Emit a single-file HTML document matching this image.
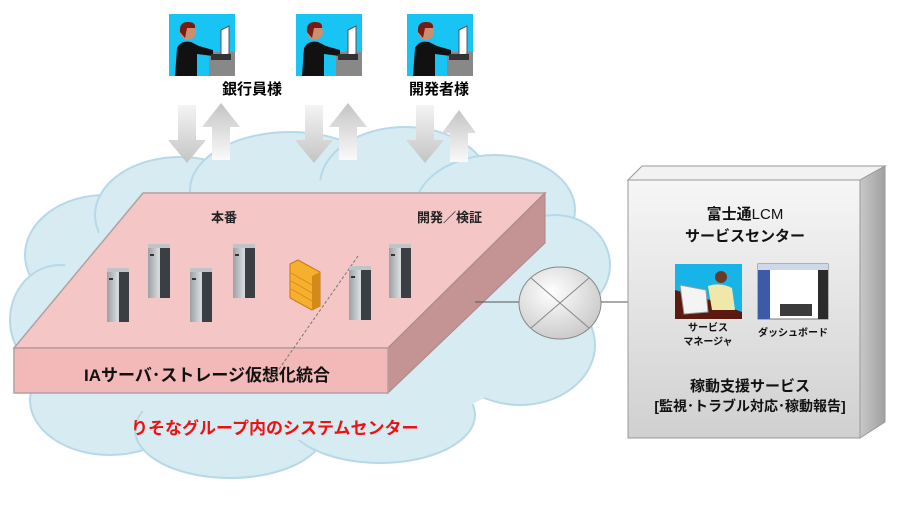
<!DOCTYPE html>
<html><head><meta charset="utf-8"><style>
body{margin:0;background:#fff;}
svg{display:block;font-family:"Liberation Sans","Noto Sans CJK JP",sans-serif;}
</style></head><body>
<svg width="900" height="515" viewBox="0 0 900 515">
<defs>
<linearGradient id="dn" x1="0" y1="0" x2="0" y2="1"><stop offset="0" stop-color="#f4f4f4"/><stop offset="1" stop-color="#c4c4c4"/></linearGradient>
<linearGradient id="up" x1="0" y1="1" x2="0" y2="0"><stop offset="0" stop-color="#fafafa"/><stop offset="1" stop-color="#c4c4c4"/></linearGradient>
<linearGradient id="box" x1="0" y1="0" x2="0" y2="1"><stop offset="0" stop-color="#f6f6f6"/><stop offset="1" stop-color="#d0d0d0"/></linearGradient>
<linearGradient id="side" x1="0" y1="0" x2="1" y2="0"><stop offset="0" stop-color="#c8c8c8"/><stop offset="1" stop-color="#a0a0a0"/></linearGradient>
<linearGradient id="srv" x1="0" y1="0" x2="1" y2="0"><stop offset="0" stop-color="#9aa0a4"/><stop offset="0.5" stop-color="#d8dcde"/><stop offset="1" stop-color="#6c7276"/></linearGradient>
<radialGradient id="circ" cx="0.4" cy="0.35" r="0.7"><stop offset="0" stop-color="#ffffff"/><stop offset="1" stop-color="#c8c8c8"/></radialGradient>
<g id="person">
<rect width="66" height="62" fill="#18c4f4"/>
<rect x="40" y="38" width="26" height="24" fill="#888"/>
<path d="M6 62 L8 34 Q12 26 22 28 L30 32 L44 36 L44 42 L28 40 L28 62Z" fill="#111"/>
<circle cx="19" cy="18" r="8" fill="#c98f70"/>
<path d="M11 18 Q10 8 19 8 Q27 8 26 14 L18 14 L16 24Z" fill="#7a1a10"/>
<path d="M52 16 L60 12 L60 40 L52 42Z" fill="#fff" stroke="#555"/>
<rect x="42" y="40" width="20" height="6" fill="#333"/>
</g>
<g id="server">
<rect width="22" height="50" fill="url(#srv)"/>
<rect x="0" y="-4" width="22" height="4" fill="#bfc4c6"/>
<rect x="12" y="0" width="10" height="50" fill="#3b3f44"/>
<rect x="2" y="6" width="4" height="2" fill="#333"/>
</g>
</defs>

<g fill="#d7ebf3" stroke="#b7d9e7" stroke-width="2">
<ellipse cx="105" cy="255" rx="80" ry="60"/>
<ellipse cx="180" cy="215" rx="85" ry="58"/>
<ellipse cx="290" cy="190" rx="100" ry="58"/>
<ellipse cx="405" cy="185" rx="85" ry="58"/>
<ellipse cx="495" cy="210" rx="80" ry="55"/>
<ellipse cx="555" cy="265" rx="55" ry="50"/>
<ellipse cx="520" cy="345" rx="75" ry="60"/>
<ellipse cx="60" cy="320" rx="50" ry="55"/>
<ellipse cx="110" cy="400" rx="80" ry="55"/>
<ellipse cx="230" cy="430" rx="95" ry="48"/>
<ellipse cx="380" cy="415" rx="95" ry="48"/>
</g>
<g fill="#d7ebf3">
<ellipse cx="300" cy="310" rx="250" ry="130"/>
</g>

<g>
<path d="M178 105 H196 V140 H206 L187 163 L168 140 H178Z" fill="url(#dn)"/>
<path d="M212 160 H230 V127 H240 L221 103 L202 127 H212Z" fill="url(#up)"/>
<path d="M305 105 H323 V140 H333 L314 163 L295 140 H305Z" fill="url(#dn)"/>
<path d="M339 160 H357 V127 H367 L348 103 L329 127 H339Z" fill="url(#up)"/>
<path d="M416 105 H434 V140 H444 L425 163 L406 140 H416Z" fill="url(#dn)"/>
<path d="M450 162 H468 V133 H476 L459 110 L442 133 H450Z" fill="url(#up)"/>
</g>

<use href="#person" x="169" y="14"/>
<use href="#person" x="296" y="14"/>
<use href="#person" x="407" y="14"/>
<text x="222" y="94" font-size="15" font-weight="bold">銀行員様</text>
<text x="409" y="94" font-size="15" font-weight="bold">開発者様</text>

<polygon points="143,193 545,193 388,348 14,348" fill="#f4c6c6" stroke="#b3a0a0" stroke-width="1.5"/>
<polygon points="388,348 545,193 545,243 388,393" fill="#c49494" stroke="#a88" stroke-width="1"/>
<rect x="14" y="348" width="374" height="45" fill="#f3b8b8" stroke="#b3a0a0" stroke-width="1.5"/>
<text x="211" y="222" font-size="13" font-weight="bold" fill="#222">本番</text>
<text x="417" y="222" font-size="13" font-weight="bold" fill="#222">開発／検証</text>
<text x="84" y="381" font-size="17" font-weight="bold" fill="#111">IAサーバ･ストレージ仮想化統合</text>
<text x="131" y="434" font-size="17" font-weight="bold" fill="#ee1111">りそなグループ内のシステムセンター</text>
<line x1="358" y1="256" x2="270" y2="382" stroke="#777" stroke-dasharray="3,2"/>

<use href="#server" x="107" y="272"/>
<use href="#server" x="148" y="248"/>
<use href="#server" x="190" y="272"/>
<use href="#server" x="233" y="248"/>
<use href="#server" x="349" y="270"/>
<use href="#server" x="389" y="248"/>
<polygon points="290,264 298,260 320,272 320,306 312,310 290,298" fill="#f5b030" stroke="#c77a10"/>
<polygon points="312,276 320,272 320,306 312,310" fill="#d48a18"/>
<g stroke="#e08a10" stroke-width="1"><line x1="291" y1="273" x2="312" y2="285"/><line x1="291" y1="281" x2="312" y2="293"/><line x1="291" y1="289" x2="312" y2="301"/></g>

<line x1="475" y1="302" x2="520" y2="302" stroke="#555"/>
<line x1="601" y1="302" x2="628" y2="302" stroke="#555"/>
<ellipse cx="560" cy="303" rx="41" ry="36" fill="url(#circ)" stroke="#888"/>
<line x1="531" y1="278" x2="589" y2="328" stroke="#888"/>
<line x1="589" y1="278" x2="531" y2="328" stroke="#888"/>

<polygon points="628,180 642,166 885,166 860,180" fill="#f2f2f2" stroke="#999"/>
<polygon points="860,180 885,166 885,422 860,438" fill="url(#side)" stroke="#999"/>
<rect x="628" y="180" width="232" height="258" fill="url(#box)" stroke="#999"/>
<g font-weight="bold" text-anchor="middle" fill="#111">
<text x="745" y="219" font-size="15">富士通<tspan font-weight="normal">LCM</tspan></text>
<text x="745" y="241" font-size="15">サービスセンター</text>
<text x="708" y="331" font-size="10">サービス</text>
<text x="708" y="345" font-size="10">マネージャ</text>
<text x="793" y="336" font-size="10">ダッシュボード</text>
<text x="750" y="391" font-size="15">稼動支援サービス</text>
<text x="750" y="411" font-size="14">[監視･トラブル対応･稼動報告]</text>
</g>
<rect x="675" y="264" width="67" height="55" fill="#18b4e8"/>
<path d="M675 290 L710 300 L742 312 L742 319 L675 319Z" fill="#5a1a10"/>
<circle cx="721" cy="277" r="6" fill="#6b3a25"/>
<path d="M708 286 Q720 282 732 288 L735 310 L712 310Z" fill="#f0e8a8"/>
<path d="M680 285 L706 290 L708 312 L684 314Z" fill="#f4f4f4" stroke="#999"/>
<rect x="758" y="264" width="70" height="55" fill="#fff" stroke="#777"/>
<rect x="758" y="264" width="70" height="6" fill="#cfd8e8"/>
<rect x="758" y="270" width="12" height="49" fill="#3c5aa8"/>
<rect x="818" y="270" width="10" height="49" fill="#2b2b2b"/>
<rect x="780" y="304" width="32" height="12" fill="#3a3a3a"/>
</svg>
</body></html>
